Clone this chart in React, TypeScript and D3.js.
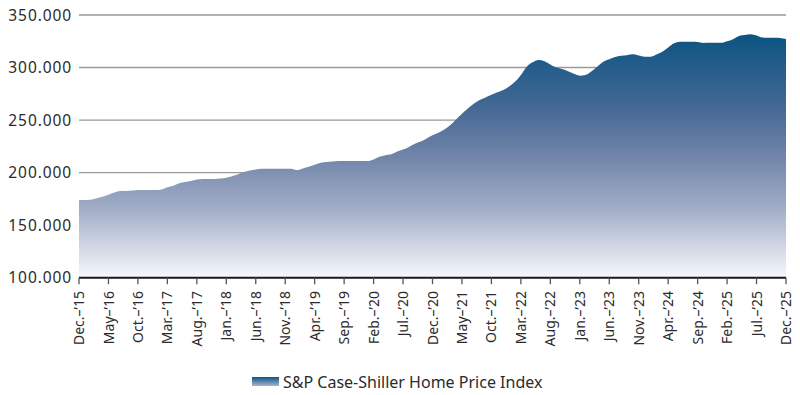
import React from "react";
import * as d3 from "d3";

const startYear = 2015;
const startMonth = 11; // December (0-based)
const values: number[] = [
  174, 174, 174.3, 175.5, 177, 179, 181, 182.5, 182.5, 183, 183.5, 183.5,
  183.5, 183.5, 184, 186, 187.5, 190, 191, 192, 193.5, 194, 194, 194,
  194.3, 195, 196.5, 198.5, 200.5, 202, 203, 203.8, 203.8, 203.8, 203.8, 203.8,
  203.8, 202.5, 204, 205.5, 207.5, 209.5, 210, 210.5, 211, 211, 211, 211,
  211, 211, 212.5, 215, 216.5, 217.5, 220, 222, 224.5, 227.5, 229.5, 232.5,
  235.5, 238, 241, 245, 250.5, 256, 261, 265.5, 269, 271.5, 274, 276.5,
  278.6, 282, 286.5, 293, 300.8, 305, 307.2, 306, 303, 300, 298.5, 296.5,
  294, 292.3, 293, 296.5, 301, 305.6, 308, 310, 311.2, 311.8, 312.6, 311.5,
  310.3, 310.3, 312.5, 315, 319, 323, 324.6, 324.6, 324.6, 324.3, 323.4, 323.5,
  323.5, 323.5, 325, 327, 330, 331, 331.6, 330.5, 328.6, 328.4, 328.4, 328.2,
  327.2,
];
const yTicks = [100, 150, 200, 250, 300, 350];
const monthAbbr = ["Jan.", "Feb.", "Mar.", "Apr.", "May", "Jun.", "Jul.", "Aug.", "Sep.", "Oct.", "Nov.", "Dec."];
const tickStep = 5;
const seriesName = "S&P Case-Shiller Home Price Index";

const FONT = "'Noto Sans', sans-serif";
const TEXT = "#2b2b2b";

export default function App() {
  const W = 800, H = 395;
  const x0 = 79, x1 = 786;
  const yTop = 15, yBot = 277.7;
  const n = values.length - 1;
  const x = d3.scaleLinear().domain([0, n]).range([x0, x1]);
  const y = d3.scaleLinear().domain([100, 350]).range([yBot, yTop]);

  const area = d3
    .area<number>()
    .x((_, i) => x(i))
    .y0(y(100))
    .y1((d) => y(d))
    .curve(d3.curveMonotoneX);

  const tickIdx = d3.range(0, n + 1, tickStep);
  const label = (i: number) => {
    const m = (startMonth + i) % 12;
    const yr = startYear + Math.floor((startMonth + i) / 12);
    return `${monthAbbr[m]}–’${String(yr % 100).padStart(2, "0")}`;
  };

  return (
    <svg width={W} height={H} style={{ position: "absolute", left: 0, top: 0, background: "#fff" }}>
      <defs>
        <linearGradient id="areaGrad" gradientUnits="userSpaceOnUse" x1="0" y1={y(332)} x2="0" y2={yBot}>
          <stop offset="0" stopColor="#0b5482" />
          <stop offset="0.3" stopColor="#446894" />
          <stop offset="0.5" stopColor="#7084a8" />
          <stop offset="0.72" stopColor="#a3aec8" />
          <stop offset="1" stopColor="#f7f8fb" />
        </linearGradient>
        <linearGradient id="legGrad" x1="0" y1="0" x2="0" y2="1">
          <stop offset="0" stopColor="#0c5583" />
          <stop offset="1" stopColor="#a9b5cc" />
        </linearGradient>
      </defs>
      {yTicks.filter((t) => t !== 100).map((t) => (
        <line key={t} x1={x0} x2={x1} y1={y(t)} y2={y(t)} stroke="#9a9a9a" strokeWidth={1.4} />
      ))}
      <path d={area(values) || ""} fill="url(#areaGrad)" />
      <line x1={x0} x2={x1} y1={yBot} y2={yBot} stroke="#1a1a1a" strokeWidth={2} />
      {tickIdx.map((i) => (
        <line key={i} x1={x(i)} x2={x(i)} y1={yBot} y2={yBot + 6.5} stroke="#555" strokeWidth={1.3} />
      ))}
      {yTicks.map((t) => (
        <text key={t} x={72} y={y(t)} dy="0.36em" textAnchor="end" fontFamily={FONT} fontSize={15.5} letterSpacing={0.9} fill={TEXT}>
          {d3.format(".3f")(t)}
        </text>
      ))}
      {tickIdx.map((i) => (
        <text
          key={i}
          transform={`translate(${x(i)},${291}) rotate(-90)`}
          dy="0.36em"
          textAnchor="end"
          fontFamily={FONT}
          fontSize={14}
          fill={TEXT}
        >
          {label(i)}
        </text>
      ))}
      <rect x={252} y={377} width={27} height={9} fill="url(#legGrad)" />
      <text x={283} y={387.5} fontFamily={FONT} fontSize={16} fill={TEXT}>
        {seriesName}
      </text>
    </svg>
  );
}
